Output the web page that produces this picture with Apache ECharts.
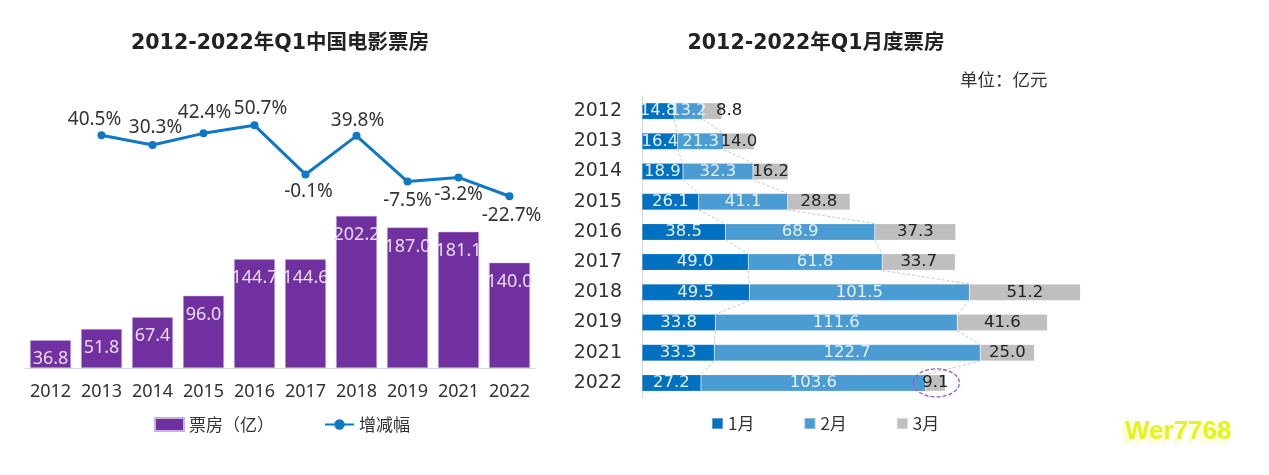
<!DOCTYPE html>
<html>
<head>
<meta charset="utf-8">
<style>html,body{margin:0;padding:0;background:#fff}#main{width:1269px;height:475px}</style>
<script src="https://cdn.jsdelivr.net/npm/echarts@6/dist/echarts.min.js"></script>
</head>
<body>
<div id="main"></div>
<script>
const years = ['2012', '2013', '2014', '2015', '2016', '2017', '2018', '2019', '2021', '2022'];
const boxOffice = [36.8, 51.8, 67.4, 96.0, 144.7, 144.6, 202.2, 187.0, 181.1, 140.0];
const growth = [null, 40.5, 30.3, 42.4, 50.7, -0.1, 39.8, -7.5, -3.2, -22.7];
const growthLabelOffsets = [null, [-7, -16], [3, -17], [1, -21], [6, -17], [3, 17], [1, -15], [0, 19], [0, 17], [2, 19]];
const jan = [14.8, 16.4, 18.9, 26.1, 38.5, 49.0, 49.5, 33.8, 33.3, 27.2];
const feb = [13.2, 21.3, 32.3, 41.1, 68.9, 61.8, 101.5, 111.6, 122.7, 103.6];
const mar = [8.8, 14.0, 16.2, 28.8, 37.3, 33.7, 51.2, 41.6, 25.0, 9.1];

const cnFont = '"Noto Sans CJK SC", "Noto Sans", sans-serif';
const numFont = '"Noto Sans", sans-serif';
const wideFont = '"DejaVu Sans", sans-serif';
const titleFont = '"DejaVu Sans", "Noto Sans CJK SC", sans-serif';

// dashed connectors between neighbouring rows of the stacked bars
const connectData = [];
for (let i = 0; i < years.length - 1; i++) {
  connectData.push([jan[i], jan[i + 1], i]);
  connectData.push([jan[i] + feb[i], jan[i + 1] + feb[i + 1], i]);
}

function stackBar(name, values, color, labelColor) {
  return {
    name: name, type: 'bar', stack: 'month', xAxisIndex: 2, yAxisIndex: 2,
    data: values, barWidth: 16.5,
    itemStyle: { color: color, borderColor: 'rgba(255,255,255,0.35)', borderWidth: 0.5 },
    label: { show: true, position: 'inside', color: labelColor, fontSize: 16.5, fontFamily: wideFont,
      formatter: p => p.value.toFixed(1) }
  };
}

const chart = echarts.init(document.getElementById('main'));
const marSeries = stackBar('3月', mar, '#bfbfbf', '#222');
marSeries.data = mar.map((v, i) => i === 0 ? { value: v, label: { offset: [17, 0] } } : v);

chart.setOption({
  animation: false,
  backgroundColor: '#fff',
  title: [
    { text: '2012-2022年Q1中国电影票房', left: 280, top: 44, textAlign: 'center', textVerticalAlign: 'middle',
      padding: 0, textStyle: { fontSize: 20.5, fontWeight: 'bold', color: '#222', fontFamily: titleFont } },
    { text: '2012-2022年Q1月度票房', left: 816, top: 44, textAlign: 'center', textVerticalAlign: 'middle',
      padding: 0, textStyle: { fontSize: 20.5, fontWeight: 'bold', color: '#222', fontFamily: titleFont } }
  ],
  grid: [
    { left: 25, width: 510, top: 180, height: 188 },
    { left: 25, width: 510, top: 97, height: 116 },
    { left: 642, width: 542, top: 96, height: 302 }
  ],
  legend: [
    { data: [{ name: '票房（亿）', icon: 'rect' }, '增减幅'], left: 149, top: 411, itemWidth: 29, itemHeight: 13, itemGap: 50,
      textStyle: { fontSize: 17, color: '#333', fontFamily: cnFont } },
    { data: [{ name: '1月', icon: 'rect' }, { name: '2月', icon: 'rect' }, { name: '3月', icon: 'rect' }],
      left: 706, top: 410, itemWidth: 11, itemHeight: 11, itemGap: 49,
      textStyle: { fontSize: 17, color: '#333', fontFamily: cnFont } }
  ],
  xAxis: [
    { gridIndex: 0, type: 'category', data: years,
      axisLine: { lineStyle: { color: '#d9d9d9' } }, axisTick: { show: false },
      axisLabel: { fontSize: 18, color: '#333', fontFamily: numFont, margin: 15, interval: 0 } },
    { gridIndex: 1, type: 'category', data: years, show: false },
    { gridIndex: 2, type: 'value', min: 0, max: 250, show: false }
  ],
  yAxis: [
    { gridIndex: 0, type: 'value', min: 0, max: 250, show: false },
    { gridIndex: 1, type: 'value', min: -40, max: 80, show: false },
    { gridIndex: 2, type: 'category', data: years, inverse: true,
      axisLine: { lineStyle: { color: '#d9d9d9' } }, axisTick: { show: false },
      axisLabel: { fontSize: 19, color: '#333', fontFamily: wideFont, margin: 20 } }
  ],
  series: [
    { name: '票房（亿）', type: 'bar', data: boxOffice, barWidth: '80%',
      itemStyle: { color: '#7030a0', borderColor: '#c9b0dd', borderWidth: 0.5 },
      label: { show: true, position: 'insideTop', distance: 10, color: '#e8dcf2', fontSize: 18, fontFamily: numFont,
        formatter: p => p.value.toFixed(1) } },
    { name: '增减幅', type: 'line', xAxisIndex: 1, yAxisIndex: 1,
      data: growth.map((v, i) => v === null ? null : { value: v, label: { offset: growthLabelOffsets[i] } }),
      symbol: 'circle', symbolSize: 8, lineStyle: { width: 3, color: '#0f78c4' }, itemStyle: { color: '#0f78c4' },
      label: { show: true, position: 'inside', color: '#333', fontSize: 19, fontFamily: numFont,
        formatter: p => p.value.toFixed(1) + '%' } },
    stackBar('1月', jan, '#0070c0', '#e4f0fa'),
    stackBar('2月', feb, '#4b9cd3', '#e4f0fa'),
    marSeries,
    { type: 'custom', xAxisIndex: 2, yAxisIndex: 2, silent: true, z: 1, data: connectData, encode: { x: [0, 1], y: 2 },
      renderItem: function (params, api) {
        const row = api.value(2);
        const a = api.coord([api.value(0), row]);
        const b = api.coord([api.value(1), row + 1]);
        return { type: 'line', shape: { x1: a[0], y1: a[1] + 8.25, x2: b[0], y2: b[1] - 8.25 },
          style: { stroke: '#c8c8c8', lineWidth: 1, lineDash: [3, 2] } };
      } },
    // dashed ring around the March 2022 value
    { type: 'custom', xAxisIndex: 2, yAxisIndex: 2, silent: true, z: 5,
      data: [[jan[9] + feb[9] + mar[9] / 2, 9]], encode: { x: 0, y: 1 },
      renderItem: function (params, api) {
        const c = api.coord([api.value(0), api.value(1)]);
        return { type: 'ellipse', shape: { cx: c[0] + 1, cy: c[1], rx: 23, ry: 14 },
          style: { fill: 'none', stroke: '#9b59c9', lineWidth: 1.3, lineDash: [4, 2] } };
      } }
  ],
  graphic: [
    { type: 'text', left: 1121, top: 424,
      style: { text: 'Wer7768', fontSize: 26, fontWeight: 'bold', fontFamily: '"Liberation Sans", sans-serif', fill: 'rgba(228,245,22,0.2)' } },
    { type: 'text', left: 1125, top: 419,
      style: { text: 'Wer7768', fontSize: 26, fontWeight: 'bold', fontFamily: '"Liberation Sans", sans-serif', fill: '#e4f516' } },
    { type: 'text', left: 960, top: 71,
      style: { text: '单位：亿元', fontSize: 17.5, fontFamily: cnFont, fill: '#333' } }
  ]
});
</script>
</body>
</html>
